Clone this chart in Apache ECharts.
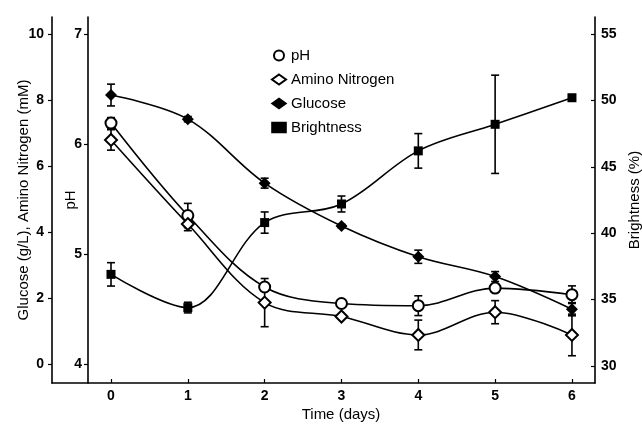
<!DOCTYPE html>
<html>
<head>
<meta charset="utf-8">
<script src="https://cdn.jsdelivr.net/npm/echarts@6/dist/echarts.min.js"></script>
<style>html,body{margin:0;padding:0;background:#fff}#c{width:642px;height:428px}</style>
</head>
<body>
<div id="c"></div>
<script>
const days = [0, 1, 2, 3, 4, 5, 6];
const phValues = [6.19, 5.35, 4.70, 4.55, 4.53, 4.69, 4.63];
const phErrors = [0.05, 0.11, 0, 0, 0.09, 0, 0.08];
const aminoValues = [6.79, 4.24, 1.86, 1.44, 0.88, 1.57, 0.88];
const aminoErrors = [0.31, 0.2, 0.73, 0, 0.45, 0.35, 0.63];
const glucoseValues = [8.15, 7.42, 5.48, 4.18, 3.25, 2.65, 1.66];
const glucoseErrors = [0.33, 0.08, 0.15, 0.05, 0.2, 0.15, 0.2];
const brightnessValues = [36.9, 34.4, 40.8, 42.2, 46.2, 48.2, 50.2];
const brightnessErrors = [0.88, 0.4, 0.8, 0.6, 1.3, 3.7, 0];
const glucoseTicks = [0, 2, 4, 6, 8, 10];
const phTicks = [4, 5, 6, 7];
const brightnessTicks = [30, 35, 40, 45, 50, 55];
const names = ['pH', 'Amino Nitrogen', 'Glucose', 'Brightness'];

const FONT = 'Liberation Sans, Arial, sans-serif';
const tick = {color: '#000', fontFamily: FONT, fontSize: 14, fontWeight: 'bold'};
const txt = {color: '#000', fontFamily: FONT, fontSize: 15};

function pairs(vals) { return days.map((d, i) => [d, vals[i]]); }
function errData(vals, errs) { return days.map((d, i) => [d, vals[i], errs[i]]); }

function errSeries(vals, errs, yIdx) {
  return {
    type: 'custom', yAxisIndex: yIdx, z: 1, silent: true,
    data: errData(vals, errs),
    renderItem: function (params, api) {
      const x = api.value(0), y = api.value(1), e = api.value(2);
      if (!e) return null;
      const top = api.coord([x, y + e]);
      const bot = api.coord([x, y - e]);
      const w = 4;
      const st = {stroke: '#000', lineWidth: 1.6};
      return {type: 'group', children: [
        {type: 'line', shape: {x1: top[0], y1: top[1], x2: bot[0], y2: bot[1]}, style: st},
        {type: 'line', shape: {x1: top[0] - w, y1: top[1], x2: top[0] + w, y2: top[1]}, style: st},
        {type: 'line', shape: {x1: bot[0] - w, y1: bot[1], x2: bot[0] + w, y2: bot[1]}, style: st}
      ]};
    }
  };
}

function lineSeries(name, vals, yIdx, symbol, size) {
  return {
    name: name, type: 'line', yAxisIndex: yIdx, z: 3,
    data: pairs(vals), smooth: 0.35,
    symbol: symbol, symbolSize: size, showAllSymbol: true,
    lineStyle: {color: '#000', width: 1.6},
    itemStyle: {color: '#000', borderWidth: 1.6},
    emphasis: {disabled: true}
  };
}

function yAxis(opts) {
  return Object.assign({
    type: 'value',
    nameLocation: 'middle', nameTextStyle: txt, nameMoveOverlap: false,
    axisLine: {show: true, onZero: false, lineStyle: {color: '#000', width: 1.6}},
    splitLine: {show: false}
  }, opts);
}

const chart = echarts.init(document.getElementById('c'), null, {renderer: 'canvas'});
chart.setOption({
  animation: false,
  backgroundColor: '#fff',
  grid: {left: 52, right: 47, top: 17, bottom: 45, containLabel: false, outerBoundsMode: 'none'},
  legend: {
    data: [
      {name: 'pH', icon: 'emptyCircle'},
      {name: 'Amino Nitrogen', icon: 'emptyDiamond'},
      {name: 'Glucose', icon: 'diamond'},
      {name: 'Brightness', icon: 'rect'}
    ],
    orient: 'vertical', left: 266, top: 43, itemWidth: 14, itemHeight: 10, itemGap: 9,
    textStyle: txt, selectedMode: false,
    itemStyle: {color: '#000', borderColor: '#000', borderWidth: 1.6}
  },
  xAxis: {
    type: 'value', min: -0.768, max: 6.30,
    name: 'Time (days)', nameLocation: 'middle', nameGap: 24, nameMoveOverlap: false,
    nameTextStyle: Object.assign({}, txt, {padding: [0, 0, 0, 35]}),
    axisLine: {onZero: false, lineStyle: {color: '#000', width: 1.6}},
    axisTick: {inside: true, length: 4, customValues: days, lineStyle: {color: '#000', width: 1.2}},
    axisLabel: Object.assign({}, tick, {customValues: days, margin: 6}),
    splitLine: {show: false}
  },
  yAxis: [
    yAxis({
      position: 'left', min: -0.576, max: 10.515,
      name: 'Glucose (g/L), Amino Nitrogen (mM)', nameGap: 21,
      axisTick: {show: true, length: 4, customValues: glucoseTicks, lineStyle: {color: '#000', width: 1.2}},
      axisLabel: Object.assign({}, tick, {customValues: glucoseTicks, margin: 8})
    }),
    yAxis({
      position: 'left', offset: -36, min: 3.827, max: 7.1545,
      name: 'pH', nameGap: 10,
      axisTick: {show: true, length: 4, customValues: phTicks, lineStyle: {color: '#000', width: 1.2}},
      axisLabel: Object.assign({}, tick, {customValues: phTicks, margin: 6})
    }),
    yAxis({
      position: 'right', min: 28.72, max: 56.28,
      name: 'Brightness (%)', nameGap: 32,
      axisTick: {show: true, inside: true, length: 4, customValues: brightnessTicks, lineStyle: {color: '#000', width: 1.2}},
      axisLabel: Object.assign({}, tick, {customValues: brightnessTicks, margin: 6})
    })
  ],
  series: [
    errSeries(phValues, phErrors, 1),
    errSeries(aminoValues, aminoErrors, 0),
    errSeries(glucoseValues, glucoseErrors, 0),
    errSeries(brightnessValues, brightnessErrors, 2),
    lineSeries('pH', phValues, 1, 'emptyCircle', 11),
    lineSeries('Amino Nitrogen', aminoValues, 0, 'emptyDiamond', 12),
    lineSeries('Glucose', glucoseValues, 0, 'diamond', 12),
    lineSeries('Brightness', brightnessValues, 2, 'rect', 9)
  ]
});
</script>
</body>
</html>
